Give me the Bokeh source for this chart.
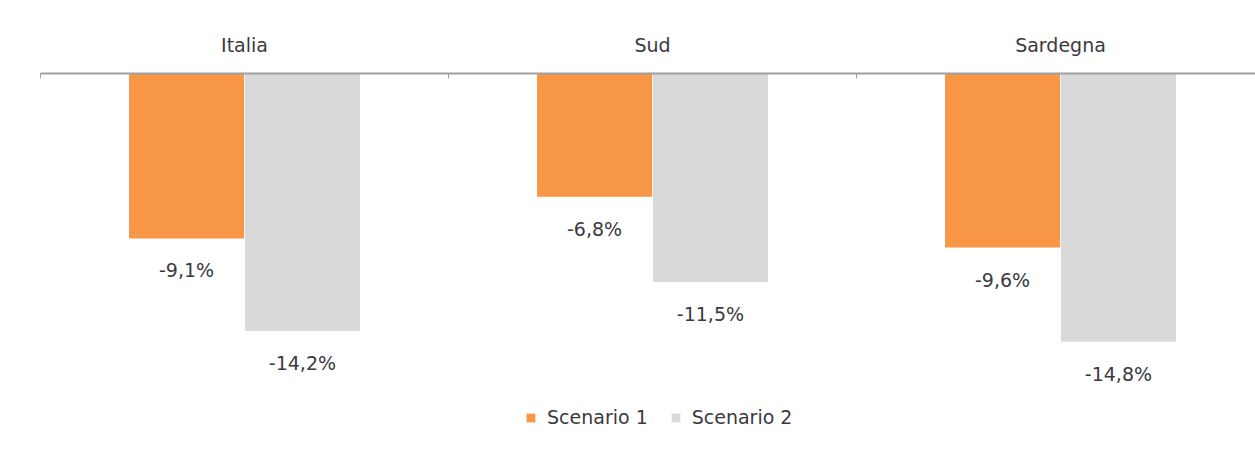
import numpy as np
from bokeh.plotting import figure
from bokeh.models import Range1d, LinearAxis, FixedTicker, Legend, LegendItem, ColumnDataSource
from bokeh.core.properties import value
from bokeh.embed import file_html
from bokeh.resources import INLINE

# ---- data ----
cities = ["Italia", "Sud", "Sardegna"]
scenario1 = [-9.1, -6.8, -9.6]
scenario2 = [-14.2, -11.5, -14.8]
series_names = ["Scenario 1", "Scenario 2"]

ORANGE = "#F79646"
GRAY = "#D9D9D9"
TEXT = "#3a3a3e"
FONT = "DejaVu Sans"
FS = "19px"

def fmt(v):
    return ("%.1f%%" % v).replace(".", ",")

pos = np.arange(len(cities)) + 0.5
src = ColumnDataSource(dict(
    x1=pos - 0.142, x2=pos + 0.142,
    s1=scenario1, s2=scenario2,
    l1=[fmt(v) for v in scenario1], l2=[fmt(v) for v in scenario2],
))

p = figure(width=1255, height=450, output_backend="svg", toolbar_location=None,
           x_range=Range1d(0, 1215 / 408), y_range=Range1d(-377 / 18.13, 0),
           x_axis_location=None, y_axis_location=None,
           min_border_left=40, min_border_right=0, min_border_top=73, min_border_bottom=0)
p.outline_line_color = None
p.xgrid.visible = False
p.ygrid.visible = False
p.background_fill_color = "white"
p.border_fill_color = "white"

r1 = p.vbar(x="x1", top=0, bottom="s1", width=0.282, source=src, fill_color=ORANGE, line_color=None)
r2 = p.vbar(x="x2", top=0, bottom="s2", width=0.282, source=src, fill_color=GRAY, line_color=None)

p.text(x="x1", y="s1", text="l1", source=src, y_offset=32, text_align="center", text_baseline="middle",
       text_font=value(FONT), text_font_size=FS, text_color=TEXT)
p.text(x="x2", y="s2", text="l2", source=src, y_offset=32, text_align="center", text_baseline="middle",
       text_font=value(FONT), text_font_size=FS, text_color=TEXT)

ax = LinearAxis(ticker=FixedTicker(ticks=list(pos), minor_ticks=[0.0, 1.0, 2.0]))
ax.major_label_overrides = {float(x): c for x, c in zip(pos, cities)}
ax.major_tick_line_color = None
ax.minor_tick_in = 5
ax.minor_tick_out = 0
ax.minor_tick_line_color = "#a0a0a0"
ax.axis_line_color = "#a0a0a0"
ax.axis_line_width = 2
ax.major_label_standoff = 12
ax.major_label_text_font = FONT
ax.major_label_text_font_size = FS
ax.major_label_text_color = TEXT
p.add_layout(ax, "above")

legend = Legend(items=[LegendItem(label=series_names[0], renderers=[r1]),
                       LegendItem(label=series_names[1], renderers=[r2])],
                orientation="horizontal", location=(485, 22),
                padding=0, margin=0, spacing=22, label_standoff=11,
                glyph_width=11, glyph_height=11, label_height=20,
                label_text_font=FONT, label_text_font_size=FS, label_text_color=TEXT,
                border_line_color=None, background_fill_alpha=0)
p.add_layout(legend, "center")

open("out.html", "w").write(file_html(p, INLINE))
